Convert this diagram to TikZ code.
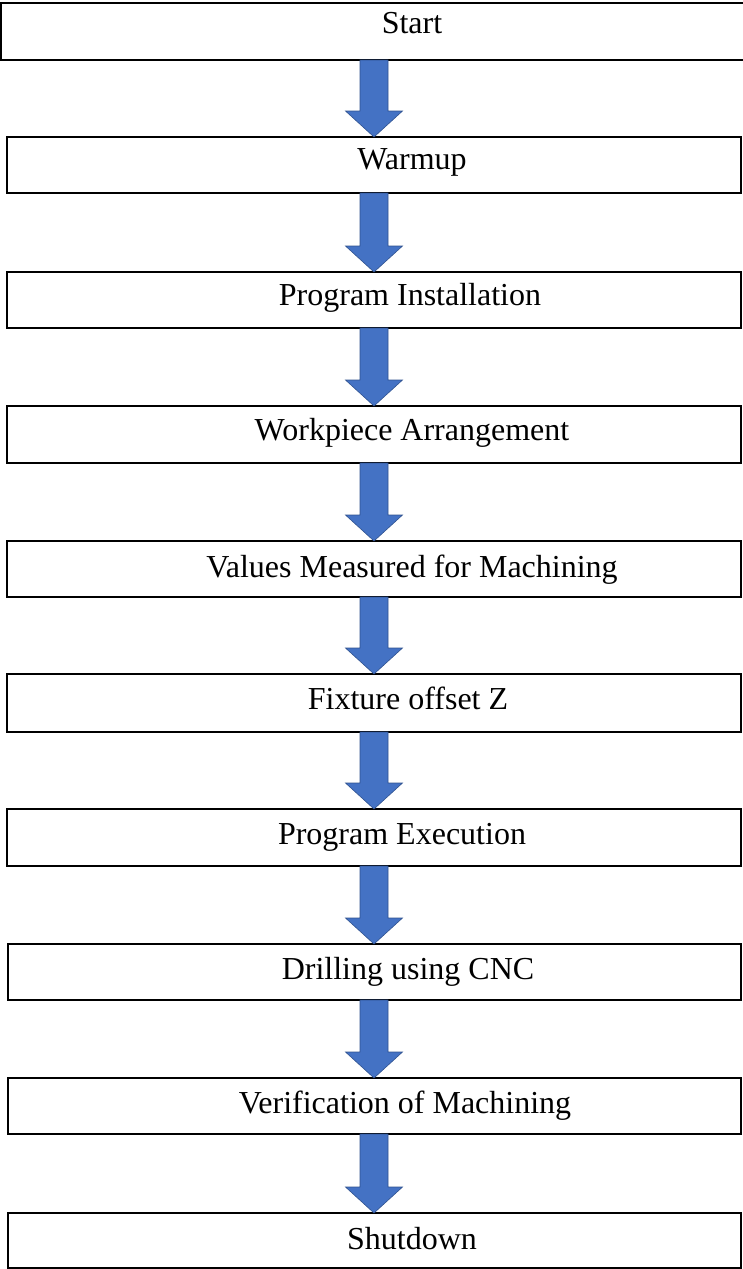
\documentclass[tikz,border=0pt]{standalone}
\usepackage{fontspec}
\setmainfont{Liberation Serif}
\usetikzlibrary{calc}
\definecolor{arrfill}{HTML}{4472C4}
\definecolor{arrline}{HTML}{2F528F}
\tikzset{
  stepbox/.style={draw=black, line width=1.6pt, rectangle, outer sep=0pt, inner sep=0pt},
  lbl/.style={anchor=base, inner sep=0pt, font=\fontsize{32pt}{38pt}\selectfont},
  blockarr/.style={fill=arrfill, draw=arrline, line width=0.6pt, line join=miter}
}
\newcommand{\flowarrow}[2]{%
  \filldraw[blockarr]
    ($(#1.south -| cx)+(-14pt,0)$) -- ($(#1.south -| cx)+(14pt,0)$) --
    ($(#2.north -| cx)+(14pt,26pt)$) -- ($(#2.north -| cx)+(28.5pt,26pt)$) --
    (#2.north -| cx) --
    ($(#2.north -| cx)+(-28.5pt,26pt)$) -- ($(#2.north -| cx)+(-14pt,26pt)$) -- cycle;}
\begin{document}
\begin{tikzpicture}[x=1pt,y=1pt]
\useasboundingbox (0,0) rectangle (743,-1269);
\coordinate (cx) at (374,0);
% boxes
\node[stepbox, minimum width=744pt, minimum height=57pt] (b1) at (373,-31.5) {};
\node[stepbox, minimum width=734pt, minimum height=56pt] (b2) at (374,-165) {};
\node[stepbox, minimum width=734pt, minimum height=56pt] (b3) at (374,-300) {};
\node[stepbox, minimum width=734pt, minimum height=57pt] (b4) at (374,-434.5) {};
\node[stepbox, minimum width=734pt, minimum height=56pt] (b5) at (374,-569) {};
\node[stepbox, minimum width=734pt, minimum height=58pt] (b6) at (374,-703) {};
\node[stepbox, minimum width=734pt, minimum height=57pt] (b7) at (374,-837.5) {};
\node[stepbox, minimum width=733pt, minimum height=56pt] (b8) at (374.5,-972) {};
\node[stepbox, minimum width=733pt, minimum height=56pt] (b9) at (374.5,-1106) {};
\node[stepbox, minimum width=733pt, minimum height=55pt] (b10) at (374.5,-1240.5) {};
% texts
\node[lbl] (t1) at (412,-33) {Start};
\node[lbl] (t2) at (412,-169) {Warmup};
\node[lbl] (t3) at (410,-305) {Program Installation};
\node[lbl] (t4) at (412,-440) {Workpiece Arrangement};
\node[lbl] (t5) at (412,-577) {Values Measured for Machining};
\node[lbl] (t6) at (408,-709) {Fixture offset Z};
\node[lbl] (t7) at (402,-844) {Program Execution};
\node[lbl] (t8) at (408,-979) {Drilling using CNC};
\node[lbl] (t9) at (405,-1113) {Verification of Machining};
\node[lbl] (t10) at (412,-1249) {Shutdown};
% arrows
\flowarrow{b1}{b2}
\flowarrow{b2}{b3}
\flowarrow{b3}{b4}
\flowarrow{b4}{b5}
\flowarrow{b5}{b6}
\flowarrow{b6}{b7}
\flowarrow{b7}{b8}
\flowarrow{b8}{b9}
\flowarrow{b9}{b10}
\end{tikzpicture}
\end{document}
